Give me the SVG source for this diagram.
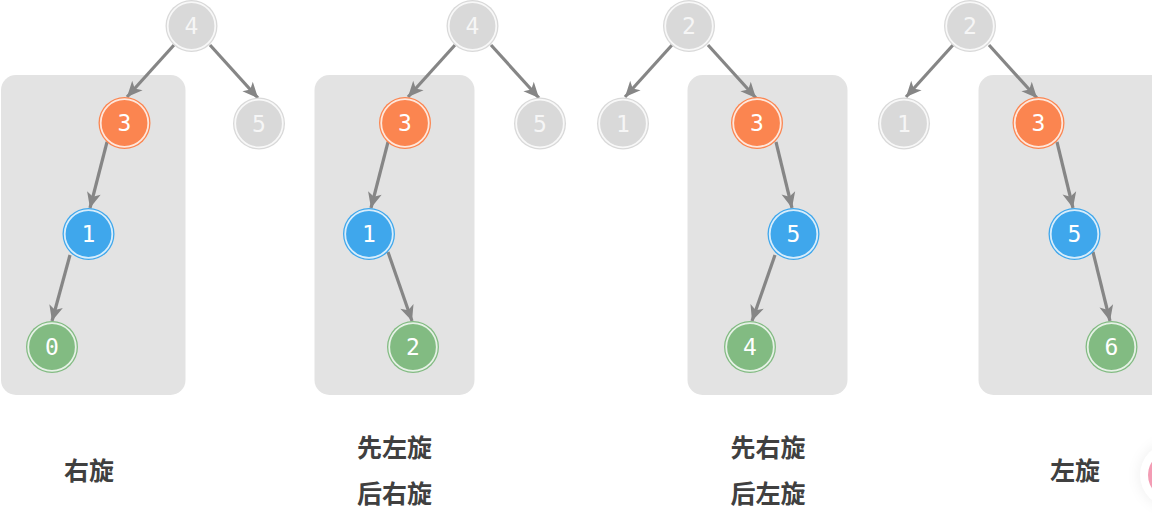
<svg xmlns="http://www.w3.org/2000/svg" width="1152" height="513" viewBox="0 0 1152 513">
<style>
.panel{fill:#e3e3e3}
.o{r:26px}
.i{r:23.800px;fill:none;stroke:#fff;stroke-opacity:.8;stroke-width:1.800}
.n{font:500 23px "DejaVu Sans Mono","Liberation Mono",monospace;fill:#fff;text-anchor:middle}
.gy .o{fill:#d9d9d9}.gy .n{fill:#f6f6f6}
.or .o{fill:#fb8550}
.bl .o{fill:#3fa7ec}
.gr .o{fill:#82bb82}
.e{stroke:#868686;stroke-width:3.200;fill:none;marker-end:url(#a)}
.c{font:700 25px "Noto Sans CJK SC","Liberation Sans",sans-serif;fill:#404040;text-anchor:middle}
</style>
<defs>
<marker id="a" markerUnits="userSpaceOnUse" markerWidth="20" markerHeight="20" refX="16" refY="9" orient="auto">
<path d="M0.500 2L16 9L0.500 16L4.500 9Z" fill="#868686"/>
</marker>
<filter id="s" x="-50%" y="-50%" width="200%" height="200%"><feGaussianBlur stdDeviation="6"/></filter>
</defs>
<rect width="1152" height="513" fill="#fff"/>
<g id="panels">
<rect class="panel" x="1" y="75" width="184.500" height="320" rx="15"/>
<rect class="panel" x="314.500" y="75" width="160" height="320" rx="15"/>
<rect class="panel" x="687.500" y="75" width="160" height="320" rx="15"/>
<rect class="panel" x="978.500" y="75" width="190" height="320" rx="15"/>
</g>
<g id="connectors">
<path class="e" d="M174 45L127 97"/><path class="e" d="M210 45L258 98"/><path class="e" d="M107 142L90 208"/><path class="e" d="M70 255L52 321"/>
<path class="e" d="M455 45L408 97"/><path class="e" d="M491 45L539 98"/><path class="e" d="M388 142L371 208"/><path class="e" d="M388 252L412 321"/>
<path class="e" d="M672 45L625 97"/><path class="e" d="M708 45L756 98"/><path class="e" d="M776 142L792 208"/><path class="e" d="M775 255L752 321"/>
<path class="e" d="M953 45L906 97"/><path class="e" d="M989 45L1037 98"/><path class="e" d="M1057 142L1073 208"/><path class="e" d="M1093 252L1110 321"/>
</g>
<g id="n1" class="gy" transform="translate(191.500 26)"><circle class="o"/><circle class="i"/><text class="n" y="8">4</text></g>
<g id="n2" class="gy" transform="translate(259 123.500)"><circle class="o"/><circle class="i"/><text class="n" y="8">5</text></g>
<g id="n3" class="or" transform="translate(124.500 123)"><circle class="o"/><circle class="i"/><text class="n" y="8">3</text></g>
<g id="n4" class="bl" transform="translate(88.500 234)"><circle class="o"/><circle class="i"/><text class="n" y="8">1</text></g>
<g id="n5" class="gr" transform="translate(52 347)"><circle class="o"/><circle class="i"/><text class="n" y="8">0</text></g>
<g id="n6" class="gy" transform="translate(472.500 26)"><circle class="o"/><circle class="i"/><text class="n" y="8">4</text></g>
<g id="n7" class="gy" transform="translate(540 123.500)"><circle class="o"/><circle class="i"/><text class="n" y="8">5</text></g>
<g id="n8" class="or" transform="translate(405 123)"><circle class="o"/><circle class="i"/><text class="n" y="8">3</text></g>
<g id="n9" class="bl" transform="translate(369 234)"><circle class="o"/><circle class="i"/><text class="n" y="8">1</text></g>
<g id="n10" class="gr" transform="translate(413 347)"><circle class="o"/><circle class="i"/><text class="n" y="8">2</text></g>
<g id="n11" class="gy" transform="translate(689 26)"><circle class="o"/><circle class="i"/><text class="n" y="8">2</text></g>
<g id="n12" class="gy" transform="translate(623 123.500)"><circle class="o"/><circle class="i"/><text class="n" y="8">1</text></g>
<g id="n13" class="or" transform="translate(757 123)"><circle class="o"/><circle class="i"/><text class="n" y="8">3</text></g>
<g id="n14" class="bl" transform="translate(793.500 234)"><circle class="o"/><circle class="i"/><text class="n" y="8">5</text></g>
<g id="n15" class="gr" transform="translate(750 347)"><circle class="o"/><circle class="i"/><text class="n" y="8">4</text></g>
<g id="n16" class="gy" transform="translate(970 26)"><circle class="o"/><circle class="i"/><text class="n" y="8">2</text></g>
<g id="n17" class="gy" transform="translate(904 123.500)"><circle class="o"/><circle class="i"/><text class="n" y="8">1</text></g>
<g id="n18" class="or" transform="translate(1038.500 123)"><circle class="o"/><circle class="i"/><text class="n" y="8">3</text></g>
<g id="n19" class="bl" transform="translate(1074.500 234)"><circle class="o"/><circle class="i"/><text class="n" y="8">5</text></g>
<g id="n20" class="gr" transform="translate(1111.500 347)"><circle class="o"/><circle class="i"/><text class="n" y="8">6</text></g>
<g id="labels">
<text class="c" x="89" y="480">右旋</text>
<text class="c" x="394.500" y="457">先左旋</text>
<text class="c" x="394.500" y="503">后右旋</text>
<text class="c" x="768" y="457">先右旋</text>
<text class="c" x="768" y="503">后左旋</text>
<text class="c" x="1075" y="480">左旋</text>
</g>
<g id="corner">
<circle cx="1172" cy="475" r="34" fill="#000" fill-opacity=".05" filter="url(#s)"/>
<circle cx="1172" cy="475" r="32" fill="#fff"/>
<circle cx="1172" cy="475" r="24" fill="#f39cb4"/>
</g>
</svg>
